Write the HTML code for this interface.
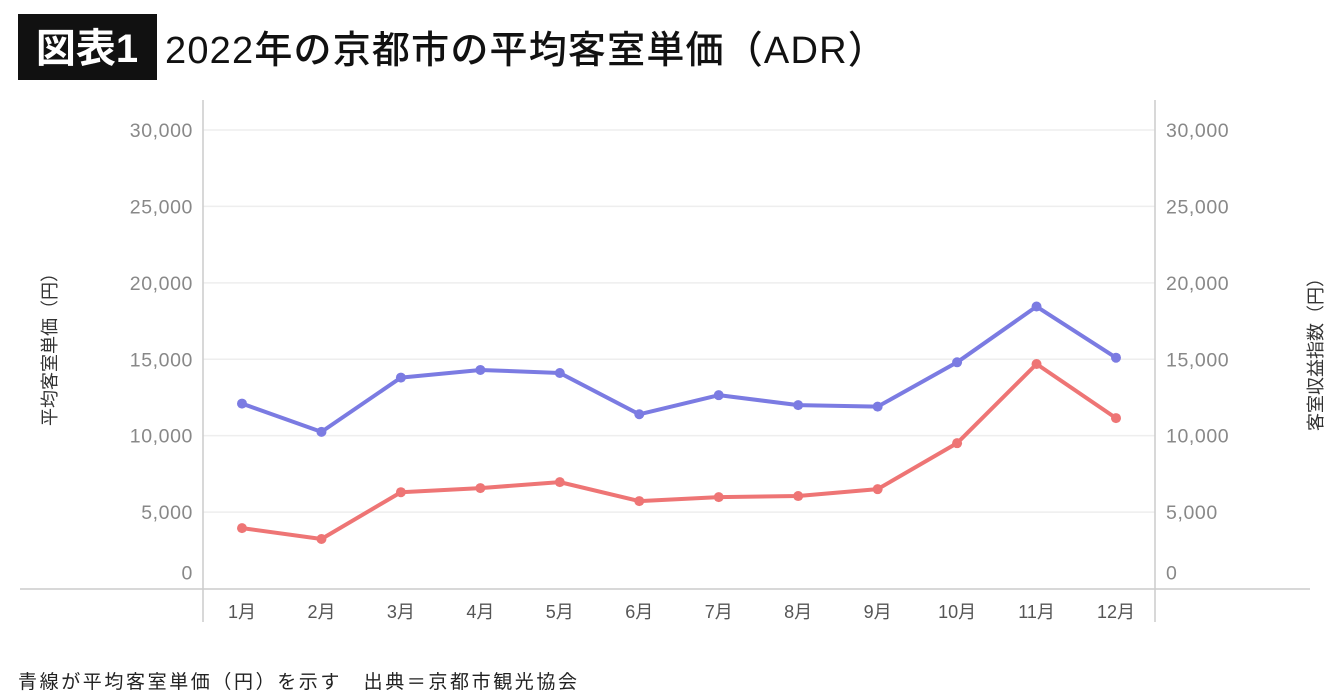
<!DOCTYPE html>
<html><head><meta charset="utf-8"><style>
body{margin:0;background:#fff;width:1340px;height:700px;overflow:hidden;font-family:"Liberation Sans","Noto Sans CJK JP",sans-serif}
</style></head><body>
<svg width="1340" height="700" style="position:absolute;left:0;top:0">
<rect x="18" y="14" width="139" height="66" fill="#111"/>
<text x="87" y="62" fill="#fff" font-size="40" font-weight="bold" text-anchor="middle" font-family="Liberation Sans,Noto Sans CJK JP,sans-serif">図表1</text>
<text x="165" y="63" fill="#111" font-size="38" font-weight="500" letter-spacing="1.2" font-family="Liberation Sans,Noto Sans CJK JP,sans-serif">2022年の京都市の平均客室単価（ADR）</text>
<g id="grid"></g>
<line x1="203" y1="100" x2="203" y2="622" stroke="#ccc" stroke-width="1.5"/>
<line x1="1155" y1="100" x2="1155" y2="622" stroke="#ccc" stroke-width="1.5"/>
<line x1="20" y1="589" x2="1310" y2="589" stroke="#ccc" stroke-width="1.5"/>
<text transform="translate(56,345) rotate(-90)" font-size="18" fill="#333" text-anchor="middle" font-family="Liberation Sans,Noto Sans CJK JP,sans-serif">平均客室単価（円）</text>
<text transform="translate(1322,350) rotate(-90)" font-size="18" fill="#333" text-anchor="middle" font-family="Liberation Sans,Noto Sans CJK JP,sans-serif">客室収益指数（円）</text>
<g id="ticks"></g>
<g id="series"></g>
<text x="18" y="688" font-size="19" letter-spacing="2.6" fill="#222" font-family="Liberation Sans,Noto Sans CJK JP,sans-serif">青線が平均客室単価（円）を示す　出典＝京都市観光協会</text>
</svg>
<script>
const categories=["1月","2月","3月","4月","5月","6月","7月","8月","9月","10月","11月","12月"];
const adrValues=[12100,10250,13800,14300,14100,11400,12650,12000,11900,14800,18450,15100];
const revparValues=[3950,3240,6300,6570,6960,5720,5980,6050,6500,9510,14690,11150];
const yTicks=[0,5000,10000,15000,20000,25000,30000];
const yTickLabels=["0","5,000","10,000","15,000","20,000","25,000","30,000"];
const NS="http://www.w3.org/2000/svg";
function xScale(i){return 242+i*(1116-242)/(categories.length-1);}
function yScale(v){return 588.5-v*(588.5-130)/30000;}
function mk(tag,attrs,parent){const e=document.createElementNS(NS,tag);for(const k in attrs)e.setAttribute(k,attrs[k]);parent.appendChild(e);return e;}
const grid=document.getElementById('grid'),ticks=document.getElementById('ticks'),series=document.getElementById('series');
yTicks.forEach((t,i)=>{
  const y=yScale(t);
  if(t>0){const g=mk('line',{x1:203,x2:1155,y1:y,y2:y,stroke:'#eee','stroke-width':1.5},grid);
  
  }
  const ly=t===0?y-9:y+7;
  const l=mk('text',{x:193,y:ly,'font-size':19.5,fill:'#888','text-anchor':'end','letter-spacing':0.6},ticks);l.textContent=yTickLabels[i];
  
  
  const r=mk('text',{x:1166,y:ly,'font-size':19.5,fill:'#888','letter-spacing':0.6},ticks);r.textContent=yTickLabels[i];
  
  
});
categories.forEach((c,i)=>{
  const t=mk('text',{x:xScale(i),y:618,'font-size':18,fill:'#555','text-anchor':'middle'},ticks);t.textContent=c;
  
  
});
function draw(vals,color,name){
  const p=mk('polyline',{points:vals.map((v,i)=>xScale(i)+','+yScale(v)).join(' '),fill:'none',stroke:color,'stroke-width':4,'stroke-linejoin':'round'},series);
  
  
  vals.forEach((v,i)=>{const c=mk('circle',{cx:xScale(i),cy:yScale(v),r:5,fill:color},series);
  
  });
}
draw(revparValues,'#ee7575','revpar');
draw(adrValues,'#7b7be2','adr');
</script>
</body></html>
